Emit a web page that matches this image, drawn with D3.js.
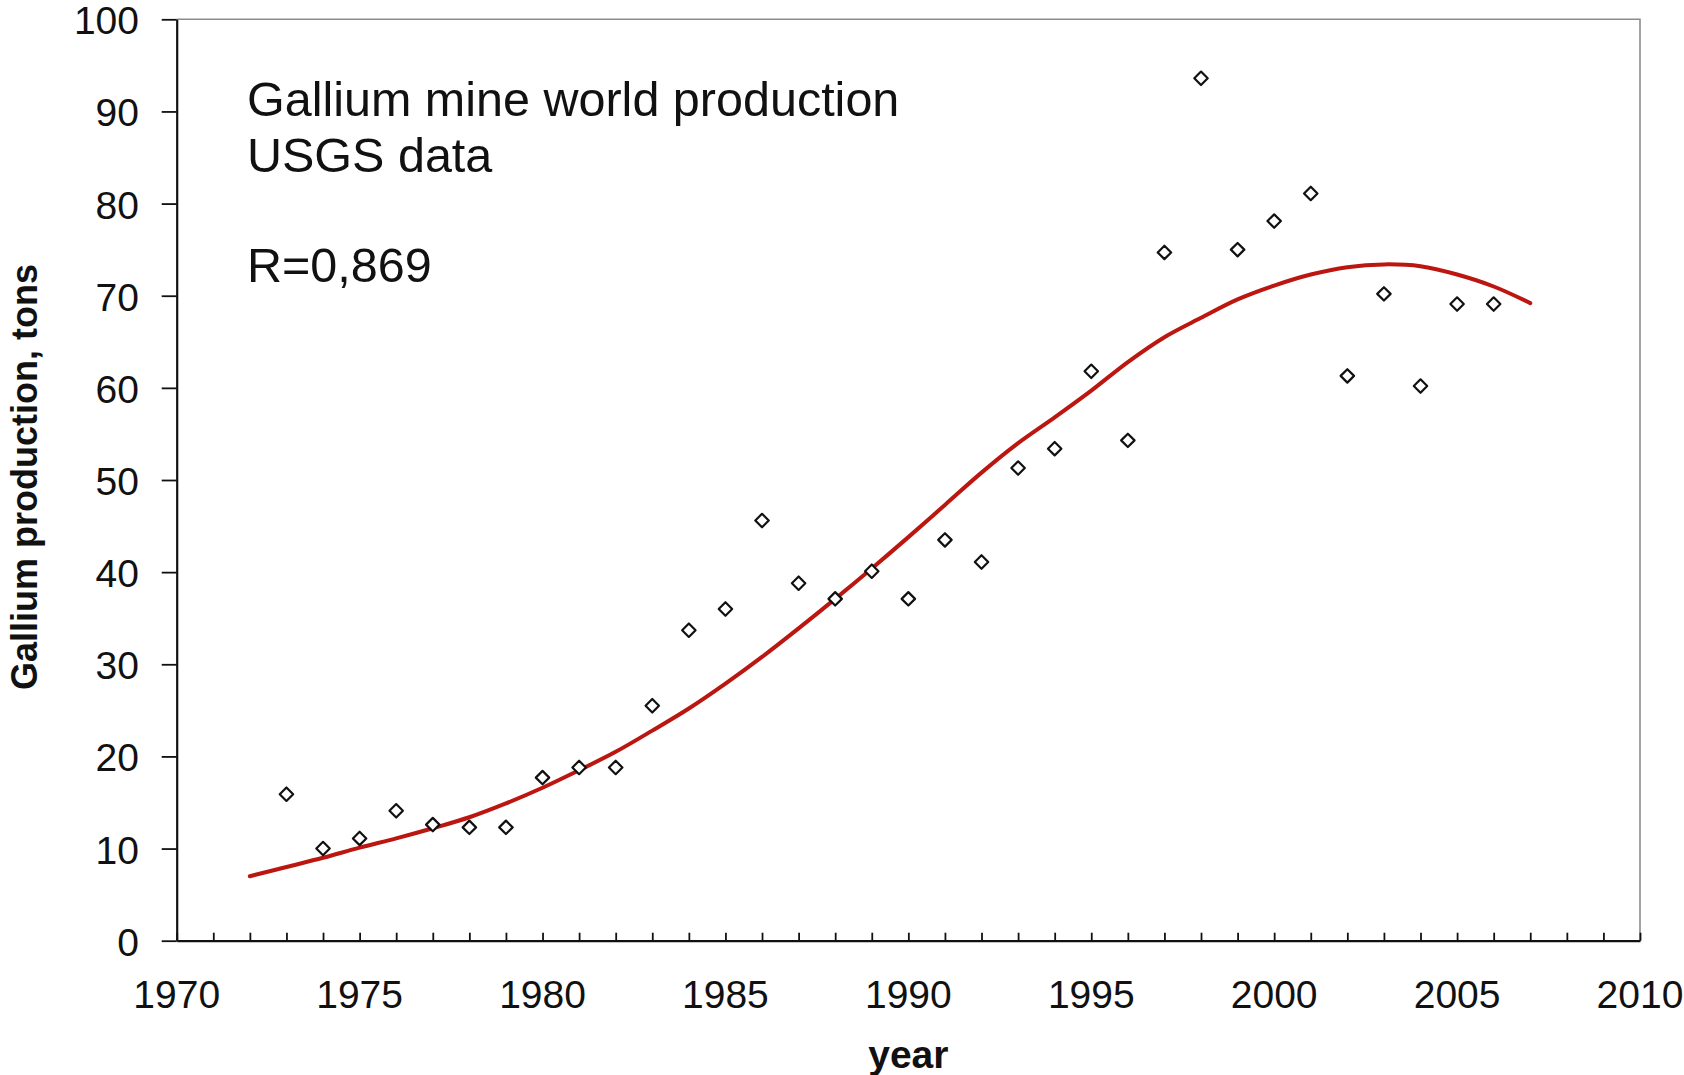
<!DOCTYPE html>
<html>
<head>
<meta charset="utf-8">
<script src="https://cdn.jsdelivr.net/npm/d3@7"></script>
<style>
  html, body { margin: 0; padding: 0; background: #fff; }
  svg { display: block; }
  text { font-family: "Liberation Sans", Arial, sans-serif; fill: #111; }
</style>
</head>
<body>
<svg id="chart" width="1684" height="1075"></svg>
<script>
// ---- data ----
const years = [1973,1974,1975,1976,1977,1978,1979,1980,1981,1982,1983,1984,1985,1986,1987,1988,1989,1990,1991,1992,1993,1994,1995,1996,1997,1998,1999,2000,2001,2002,2003,2004,2005,2006];
const production = [15.9,10.0,11.1,14.1,12.6,12.3,12.3,17.7,18.8,18.8,25.5,33.7,36.0,45.6,38.8,37.1,40.1,37.1,43.5,41.1,51.3,53.4,61.8,54.3,74.7,93.6,75.0,78.1,81.1,61.3,70.2,60.2,69.1,69.1];
const trendYears = [1972,1973,1974,1975,1976,1977,1978,1979,1980,1981,1982,1983,1984,1985,1986,1987,1988,1989,1990,1991,1992,1993,1994,1995,1996,1997,1998,1999,2000,2001,2002,2003,2004,2005,2006,2007];
const trendValues = [7.0,8.0,9.0,10.1,11.1,12.2,13.4,14.9,16.6,18.5,20.5,22.8,25.2,27.9,30.8,33.9,37.1,40.4,43.8,47.3,50.8,54.0,56.8,59.7,62.8,65.5,67.6,69.6,71.1,72.3,73.1,73.4,73.2,72.3,71.0,69.2];
const xTickLabels = [1970,1975,1980,1985,1990,1995,2000,2005,2010];
const yTickLabels = [0,10,20,30,40,50,60,70,80,90,100];
const titleLines = ["Gallium mine world production", "USGS data"];
const rLabel = "R=0,869";
const xTitle = "year";
const yTitle = "Gallium production, tons";

// ---- layout ----
const plotL = 176.7, plotR = 1640, plotT = 19.3, plotB = 940.7;
const svg = d3.select("#chart");

const x = d3.scaleLinear().domain([1970, 2010]).range([plotL, plotR]);
const y = d3.scaleLinear().domain([0, 100]).range([plotB, plotT]);

// plot frame (top & right gray)
svg.append("path")
  .attr("d", `M${plotL},${plotT}H${plotR}V${plotB}`)
  .attr("fill", "none").attr("stroke", "#8c8c8c").attr("stroke-width", 1.6);

// x axis: minor ticks every year, pointing up (inside)
const xAxis = d3.axisBottom(x)
  .tickValues(d3.range(1970, 2011, 1))
  .tickSize(-8).tickSizeOuter(0)
  .tickFormat("");
const gx = svg.append("g").attr("transform", `translate(0,${plotB})`).call(xAxis);
gx.select(".domain").attr("stroke", "#111").attr("stroke-width", 2.2);
gx.selectAll(".tick line").attr("stroke", "#111").attr("stroke-width", 1.8);

// x labels
svg.append("g").selectAll("text").data(xTickLabels).join("text")
  .attr("x", d => x(d)).attr("y", 1008)
  .attr("text-anchor", "middle")
  .attr("font-size", 39)
  .attr("fill", "#1a1a1a")
  .text(d => d);

// y axis
const yAxis = d3.axisLeft(y).tickValues(yTickLabels).tickSize(15).tickSizeOuter(0).tickFormat("");
const gy = svg.append("g").attr("transform", `translate(${plotL},0)`).call(yAxis);
gy.select(".domain").attr("stroke", "#111").attr("stroke-width", 2.2);
gy.selectAll(".tick line").attr("stroke", "#111").attr("stroke-width", 1.8);

svg.append("g").selectAll("text").data(yTickLabels).join("text")
  .attr("x", 139).attr("y", d => y(d) + 1)
  .attr("dy", "0.36em")
  .attr("text-anchor", "end")
  .attr("font-size", 39)
  .attr("fill", "#1a1a1a")
  .text(d => d);

// trend line
const line = d3.line()
  .x((d, i) => x(trendYears[i]))
  .y(d => y(d))
  .curve(d3.curveCatmullRom);
svg.append("path")
  .datum(trendValues)
  .attr("d", line)
  .attr("fill", "none")
  .attr("stroke", "#bb1610")
  .attr("stroke-width", 4)
  .attr("stroke-linecap", "round");

// markers (diamonds)
const diamond = d3.symbol().type(d3.symbolDiamond2).size(115);
svg.append("g").selectAll("path").data(production).join("path")
  .attr("d", diamond)
  .attr("transform", (d, i) => `translate(${x(years[i])},${y(d)})`)
  .attr("fill", "#fff")
  .attr("stroke", "#111")
  .attr("stroke-width", 2.2)
  .attr("stroke-linejoin", "round");

// annotation text
svg.append("text").attr("x", 247).attr("y", 116).attr("font-size", 48.5).text(titleLines[0]);
svg.append("text").attr("x", 247).attr("y", 172).attr("font-size", 48.5).text(titleLines[1]);
svg.append("text").attr("x", 247).attr("y", 282).attr("font-size", 48.5).text(rLabel);

// axis titles
svg.append("text")
  .attr("x", (plotL + plotR) / 2).attr("y", 1068)
  .attr("text-anchor", "middle")
  .attr("font-size", 39).attr("font-weight", "bold")
  .text(xTitle);

svg.append("text")
  .attr("transform", `translate(37,${477}) rotate(-90)`)
  .attr("text-anchor", "middle")
  .attr("font-size", 36).attr("font-weight", "bold")
  .text(yTitle);
</script>
</body>
</html>
